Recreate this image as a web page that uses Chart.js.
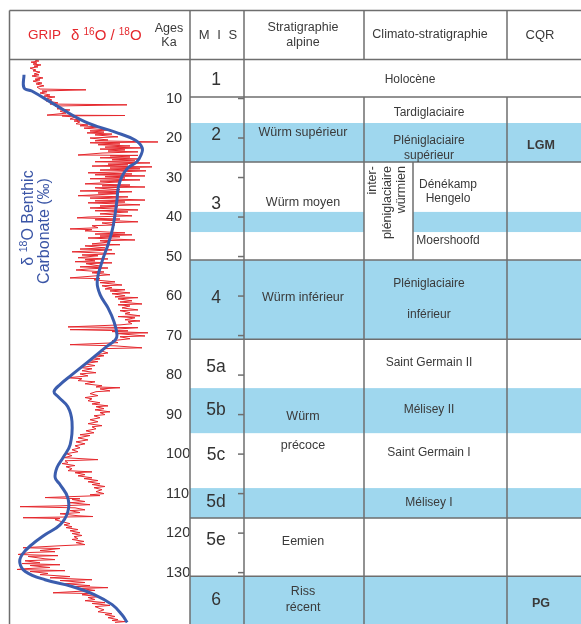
<!DOCTYPE html>
<html>
<head>
<meta charset="utf-8">
<script src="https://cdn.jsdelivr.net/npm/chart.js@4.4.1/dist/chart.umd.min.js"></script>
<style>
  html, body { margin: 0; padding: 0; background: #fff; overflow: hidden; }
  canvas { display: block; }
</style>
</head>
<body>
<canvas id="chart" width="581" height="624"></canvas>
<script>
// GRIP ice core: age (ka) and delta 18O (permil)
const gripAge = [
  0.3, 0.5, 0.8, 1.0, 1.3, 1.5, 1.8, 2.0, 2.3, 2.8,
  3.0, 3.3, 3.8, 4.0, 4.3, 4.8, 5.1, 5.3, 5.6, 6.1,
  6.3, 6.8, 7.1, 7.6, 7.8, 8.1, 8.3, 8.6, 9.1, 9.4,
  9.6, 9.9, 10.4, 10.6, 11.1, 11.4, 11.6, 11.9, 12.4, 12.6,
  12.9, 13.2, 13.7, 14.2, 14.3, 14.4, 14.7, 15.2, 15.4, 15.7,
  15.9, 16.4, 16.7, 16.9, 17.2, 17.5, 18.0, 18.2, 18.5, 18.7,
  19.0, 19.2, 19.7, 20.0, 20.5, 20.7, 21.0, 21.2, 21.5, 21.7,
  22.0, 22.3, 22.5, 22.8, 23.0, 23.3, 23.5, 23.8, 24.3, 24.4,
  24.5, 24.8, 25.0, 25.3, 25.5, 25.8, 26.0, 26.3, 26.6, 26.8,
  27.1, 27.3, 27.6, 27.8, 28.1, 28.3, 28.6, 28.8, 29.1, 29.3,
  29.6, 29.8, 30.1, 30.3, 30.6, 30.9, 31.1, 31.6, 31.9, 32.1,
  32.4, 32.6, 33.1, 33.4, 33.6, 33.9, 34.1, 34.6, 34.9, 35.2,
  35.7, 35.9, 36.2, 36.4, 36.9, 37.2, 37.4, 37.7, 38.2, 38.4,
  38.7, 39.2, 39.7, 40.0, 40.2, 40.5, 40.7, 41.2, 41.5, 42.0,
  42.2, 42.7, 43.0, 43.2, 43.5, 43.8, 44.0, 44.3, 44.5, 44.8,
  45.0, 45.3, 45.8, 46.0, 46.3, 46.8, 47.0, 47.3, 47.8, 48.1,
  48.3, 48.6, 48.8, 49.1, 49.3, 49.6, 49.8, 50.3, 50.6, 50.8,
  51.1, 51.3, 51.6, 51.8, 52.4, 52.6, 52.9, 53.1, 53.4, 53.9,
  54.1, 54.6, 54.9, 55.4, 55.6, 55.9, 56.4, 56.6, 57.2, 57.4,
  57.9, 58.2, 58.4, 58.7, 59.2, 59.4, 59.9, 60.2, 60.4, 60.7,
  61.2, 61.5, 62.0, 62.2, 62.5, 63.0, 63.5, 63.7, 64.2, 64.5,
  65.0, 65.2, 65.5, 66.0, 66.3, 66.5, 67.0, 67.3, 67.5, 67.8,
  68.0, 68.3, 68.5, 68.8, 69.0, 69.3, 69.5, 70.1, 70.3, 70.8,
  71.3, 71.8, 72.3, 72.6, 73.1, 73.3, 73.8, 74.4, 74.9, 75.1,
  75.6, 75.9, 76.4, 76.6, 77.1, 77.6, 78.1, 78.4, 78.9, 79.4,
  79.7, 80.2, 80.7, 80.9, 81.4, 81.7, 82.2, 82.7, 83.0, 83.2,
  83.5, 84.0, 84.2, 84.7, 85.2, 85.7, 86.0, 86.5, 87.0, 87.3,
  87.8, 88.0, 88.5, 88.8, 89.3, 89.5, 90.0, 90.3, 90.8, 91.3,
  91.8, 92.3, 92.8, 93.1, 93.6, 94.1, 94.6, 95.1, 95.3, 95.9,
  96.4, 96.9, 97.4, 97.9, 98.4, 98.9, 99.4, 99.9, 100.4, 100.9,
  101.4, 101.7, 102.2, 102.4, 102.9, 103.2, 103.7, 104.2, 104.5, 104.7,
  105.2, 105.5, 106.0, 106.2, 106.7, 107.0, 107.5, 107.7, 108.2, 108.5,
  109.0, 109.5, 110.0, 110.3, 110.5, 111.0, 111.3, 111.5, 112.0, 112.3,
  112.8, 113.1, 113.3, 113.6, 114.1, 114.3, 114.8, 115.1, 115.6, 115.8,
  116.1, 116.3, 116.6, 117.1, 117.6, 117.9, 118.4, 118.6, 119.1, 119.4,
  119.9, 120.1, 120.6, 120.9, 121.4, 121.6, 122.1, 122.4, 122.9, 123.2,
  123.7, 123.9, 124.4, 124.7, 124.9, 125.4, 125.7, 125.9, 126.5, 126.7,
  127.0, 127.5, 127.7, 128.0, 128.2, 128.7, 129.0, 129.2, 129.5, 129.7,
  130.2, 130.5, 131.0, 131.3, 131.8, 132.0, 132.5, 132.8, 133.3, 133.5,
  133.8, 134.0, 134.5, 135.1, 135.3, 135.6, 136.1, 136.3, 136.8, 137.1,
  137.6, 137.8, 138.3, 138.6, 139.1, 139.4, 139.9, 140.4, 140.6, 141.1,
  141.4, 141.9, 142.1, 142.4, 142.6
];
const gripD18O = [
  -33.7, -34.1, -33.3, -33.9, -33.5, -34.3, -33.6, -34.0, -33.2, -33.8,
  -33.5, -34.2, -33.6, -34.1, -33.4, -34.5, -33.7, -34.2, -33.5, -34.4,
  -33.8, -34.6, -33.9, -34.2, -38.8, -34.4, -34.9, -34.2, -35.2, -34.6,
  -35.7, -34.9, -35.4, -34.8, -36.0, -35.2, -42.9, -35.7, -36.4, -35.9,
  -37.2, -36.2, -36.8, -34.9, -42.7, -36.4, -37.7, -37.2, -38.4, -37.6,
  -38.2, -37.8, -39.0, -38.2, -40.2, -38.6, -41.2, -39.2, -40.6, -38.9,
  -41.4, -39.7, -42.0, -39.2, -41.0, -39.7, -46.0, -39.2, -42.2, -40.0,
  -43.2, -40.7, -44.4, -40.2, -42.7, -41.0, -44.0, -40.4, -38.0, -44.0,
  -41.2, -43.2, -40.2, -44.2, -41.4, -43.7, -39.7, -45.2, -41.0, -43.0,
  -39.4, -45.4, -41.2, -44.2, -40.2, -44.8, -42.0, -39.0, -43.4, -39.7,
  -44.7, -40.7, -42.7, -39.2, -44.2, -40.2, -42.2, -38.7, -43.2, -40.4,
  -44.7, -39.7, -42.2, -38.2, -43.4, -40.0, -42.0, -38.0, -43.0, -39.2,
  -44.7, -39.7, -42.7, -39.0, -44.2, -40.2, -42.0, -39.2, -44.0, -39.7,
  -43.0, -40.2, -43.4, -39.0, -37.9, -42.2, -39.7, -44.0, -40.4, -41.7,
  -39.4, -40.0, -37.2, -39.4, -38.7, -41.0, -42.7, -39.7, -43.4, -40.2,
  -42.2, -39.0, -43.7, -40.2, -41.2, -39.4, -42.2, -38.7, -40.7, -38.2,
  -41.4, -39.2, -37.4, -40.2, -41.7, -38.4, -40.0, -38.0, -41.0, -38.7,
  -39.7, -37.7, -41.4, -38.8, -40.2, -38.2, -41.0, -39.2, -37.8, -40.6,
  -39.4, -41.2, -39.7, -37.2, -40.2, -39.6, -41.7, -40.2, -42.4, -40.4,
  -41.4, -40.7, -42.7, -41.2, -43.2, -41.4, -42.7, -41.7, -44.0, -42.0,
  -43.4, -42.2, -44.4, -42.0, -43.2, -42.4, -44.0, -42.2, -43.2, -42.7,
  -44.2, -42.0, -43.7, -42.7, -44.2, -43.0, -43.4, -42.2, -40.2, -37.0,
  -44.0, -42.2, -37.2, -43.0, -41.4, -45.0, -42.0, -44.7, -42.2, -43.2,
  -41.4, -42.0, -37.2, -41.7, -44.4, -40.7, -40.2, -41.0, -39.7, -40.6,
  -39.4, -40.2, -39.0, -40.0, -38.6, -39.7, -38.2, -39.4, -38.4, -39.8,
  -38.2, -39.0, -36.9, -38.4, -38.0, -39.7, -38.7, -40.4, -39.8, -42.2,
  -40.2, -41.2, -39.8, -39.2, -40.0, -38.7, -39.4, -39.0, -40.2, -39.4,
  -41.0, -39.8, -40.6, -39.7, -41.2, -40.2, -40.7, -39.6, -40.2, -39.2,
  -40.0, -39.0, -40.4, -39.4, -39.8, -38.8, -39.6, -38.2, -39.2, -38.0,
  -39.0, -37.8, -38.7, -37.7, -38.2, -37.4, -38.0, -36.8, -37.4, -36.6,
  -40.0, -36.7, -37.0, -36.4, -37.7, -36.8, -37.4, -37.0, -39.4, -37.7,
  -38.7, -38.0, -39.4, -38.6, -40.0, -39.0, -40.2, -39.4, -40.7, -39.6,
  -40.4, -39.8, -40.6, -39.2, -40.2, -34.7, -38.2, -37.4, -38.7, -37.2,
  -39.2, -36.2, -32.2, -37.7, -38.7, -37.2, -38.2, -36.2, -38.0, -39.5,
  -32.5, -36.2, -35.7, -36.4, -37.2, -36.6, -37.4, -36.8, -38.0, -37.2,
  -38.2, -37.4, -38.4, -37.6, -38.0, -37.4, -38.6, -37.8, -38.7, -36.2,
  -32.5, -36.2, -34.2, -35.7, -33.2, -32.0, -36.0, -33.0, -34.7, -35.7,
  -32.7, -34.2, -32.4, -36.2, -33.2, -35.2, -32.7, -31.9, -36.7, -33.2,
  -35.0, -34.2, -37.2, -35.2, -39.4, -36.2, -38.7, -36.7, -39.2, -37.7,
  -41.0, -38.2, -39.7, -35.5, -39.4, -38.4, -40.2, -39.0, -39.7, -38.7,
  -40.7, -39.4, -41.2, -39.7, -40.2, -40.6, -40.0, -41.4, -40.7, -41.7,
  -41.0, -42.0, -41.4, -42.7, -41.7
];

// benthic carbonate delta 18O (permil), smoothed curve
const benthicAge = [
  4.0, 7.3, 8.1, 11.6, 15.9, 18.5, 20.5, 22.5, 24.3, 26.0,
  27.6, 29.8, 32.6, 35.7, 42.7, 47.0, 51.3, 56.4, 59.7, 63.0,
  66.5, 69.8, 71.1, 73.1, 76.6, 79.9, 82.4, 84.2, 85.5, 88.0,
  91.8, 97.6, 100.9, 103.4, 106.0, 107.7, 111.0, 114.6, 117.9, 120.4,
  122.9, 125.4, 127.5, 129.7, 131.8, 133.5, 135.6, 138.1, 140.6, 142.6
];
const benthicD18O = [
  3.15, 3.15, 3.28, 3.67, 4.17, 4.67, 5.00, 5.12, 5.10, 5.03,
  4.88, 4.78, 4.72, 4.70, 4.63, 4.55, 4.45, 4.37, 4.42, 4.55,
  4.65, 4.70, 4.67, 4.50, 4.22, 3.95, 3.75, 3.65, 3.72, 3.88,
  3.95, 3.92, 3.80, 3.70, 3.67, 3.75, 3.88, 3.88, 3.75, 3.50,
  3.28, 3.12, 3.08, 3.17, 3.50, 3.95, 4.33, 4.62, 4.78, 4.87
];

const ageTicks = [10, 20, 30, 40, 50, 60, 70, 80, 90, 100, 110, 120, 130];

// stratigraphic table (ages in ka)
const stageBounds = [9.6, 26.1, 50.9, 70.9, 116.2, 130.9];
const coldStart = [16.2, 38.7, 50.9, 83.3, 108.6, 130.9];
const coldEnd = [26.1, 43.8, 70.9, 94.7, 116.2, 143];

const misLabels = ['1', '2', '3', '4', '5a', '5b', '5c', '5d', '5e', '6'];
const misAges = [5.3, 19.2, 36.7, 60.5, 78.0, 88.8, 100.2, 112.1, 121.7, 136.9];

const alpineLabels = ['Würm supérieur', 'Würm moyen', 'Würm inférieur', 'Würm', 'précoce', 'Eemien', 'Riss', 'récent'];
const alpineAges = [18.5, 36.4, 60.5, 90.4, 97.9, 122.2, 134.9, 138.9];

const climatoLabels = ['Tardiglaciaire', 'Pléniglaciaire', 'supérieur', 'Pléniglaciaire', 'inférieur',
  'Saint Germain II', 'Mélisey II', 'Saint Germain I', 'Mélisey I'];
const climatoAges = [13.7, 20.8, 24.5, 56.9, 64.8, 76.9, 88.8, 99.7, 112.4];

const interLabels = ['Dénékamp', 'Hengelo', 'Moershoofd'];
const interAges = [31.9, 35.4, 46.1];
const interTitle = ['inter-', 'pléniglaciaire', 'würmien'];

const cqrLabels = ['LGM', 'PG'];
const cqrAges = [21.8, 137.7];

const FONT = "'Liberation Sans', Arial, sans-serif";
const RED = '#e5282d';
const BLUE = '#3b5dae';
const BAND = '#9fd7ee';
const INK = '#3a3a3a';
const RULE = '#6e6e6e';

// column edges
const COL = { left: 9.5, ages: 190, mis: 244, strat: 364, sub: 413, clim: 507, right: 581, top: 10.5 };

function rich(ctx, parts, x, y, align) {
    const widths = parts.map(p => { ctx.font = p.font; return ctx.measureText(p.text).width; });
    const total = widths.reduce((a, b) => a + b, 0);
    let cx = align === 'center' ? x - total / 2 : x;
    ctx.textAlign = 'left';
    parts.forEach((p, i) => {
        ctx.font = p.font;
        ctx.fillText(p.text, cx, y - (p.rise || 0));
        cx += widths[i];
    });
}

const tablePlugin = {
    id: 'stratTable',
    beforeDraw(chart) {
        const { ctx, scales: { y } } = chart;
        ctx.save();
        ctx.fillStyle = BAND;
        coldStart.forEach((s, i) => {
            const y0 = y.getPixelForValue(s), y1 = y.getPixelForValue(coldEnd[i]);
            const inSub = s > stageBounds[1] && coldEnd[i] < stageBounds[2];
            if (inSub) {
                ctx.fillRect(COL.ages, y0, COL.strat - COL.ages, y1 - y0);
                ctx.fillRect(COL.sub, y0, COL.right - COL.sub, y1 - y0);
            } else {
                ctx.fillRect(COL.ages, y0, COL.right - COL.ages, y1 - y0);
            }
        });
        ctx.restore();
    },
    afterDraw(chart) {
        const { ctx, chartArea: a, scales: { y } } = chart;
        const py = v => y.getPixelForValue(v);
        const H = chart.height;
        const head = a.top + 0.5;

        ctx.save();
        ctx.strokeStyle = RULE;
        ctx.lineWidth = 1.5;
        const seg = (x1, y1, x2, y2) => {
            ctx.beginPath(); ctx.moveTo(x1, y1); ctx.lineTo(x2, y2); ctx.stroke();
        };
        seg(COL.left, COL.top, COL.right, COL.top);
        seg(COL.left, head, COL.right, head);
        seg(COL.left, COL.top, COL.left, H);
        seg(COL.ages, COL.top, COL.ages, H);
        seg(COL.mis, COL.top, COL.mis, H);
        const yHolo = py(stageBounds[0]);
        seg(COL.strat, COL.top, COL.strat, head);
        seg(COL.strat, yHolo, COL.strat, H);
        seg(COL.clim, COL.top, COL.clim, head);
        seg(COL.clim, yHolo, COL.clim, H);
        stageBounds.forEach(v => seg(COL.ages, py(v), COL.right, py(v)));
        seg(COL.sub, py(stageBounds[1]), COL.sub, py(stageBounds[2]));
        ageTicks.forEach(v => seg(COL.mis - 6, py(v), COL.mis, py(v)));

        // header
        ctx.textBaseline = 'middle';
        ctx.fillStyle = RED;
        ctx.font = `13.5px ${FONT}`;
        ctx.textAlign = 'left';
        ctx.fillText('GRIP', 28, 35);
        rich(ctx, [
            { text: 'δ ', font: `15px ${FONT}` },
            { text: '16', font: `10px ${FONT}`, rise: 4 },
            { text: 'O / ', font: `15px ${FONT}` },
            { text: '18', font: `10px ${FONT}`, rise: 4 },
            { text: 'O', font: `15px ${FONT}` }
        ], 71, 36, 'left');

        ctx.fillStyle = INK;
        ctx.textAlign = 'center';
        ctx.font = `12.5px ${FONT}`;
        ctx.fillText('Ages', 169, 29);
        ctx.fillText('Ka', 169, 43);
        ctx.font = `13px ${FONT}`;
        ctx.letterSpacing = '2px';
        ctx.fillText('M I S', 219, 35);
        ctx.letterSpacing = '0px';
        ctx.font = `12.5px ${FONT}`;
        ctx.fillText('Stratigraphie', 303, 28);
        ctx.fillText('alpine', 303, 43);
        ctx.fillText('Climato-stratigraphie', 430, 35);
        ctx.font = `13px ${FONT}`;
        ctx.fillText('CQR', 540, 35);

        // body
        ctx.fillStyle = '#333';
        ctx.font = `17.5px ${FONT}`;
        misLabels.forEach((t, i) => ctx.fillText(t, 216, py(misAges[i])));

        ctx.fillStyle = INK;
        ctx.font = `12.5px ${FONT}`;
        alpineLabels.forEach((t, i) => ctx.fillText(t, 303, py(alpineAges[i])));

        ctx.font = `12px ${FONT}`;
        ctx.fillText('Holocène', 410, py(misAges[0]));
        climatoLabels.forEach((t, i) => ctx.fillText(t, 429, py(climatoAges[i])));
        interLabels.forEach((t, i) => ctx.fillText(t, 448, py(interAges[i])));

        ctx.font = `bold 12.5px ${FONT}`;
        cqrLabels.forEach((t, i) => ctx.fillText(t, 541, py(cqrAges[i])));

        // rotated cell
        ctx.font = `12.5px ${FONT}`;
        const topEdge = py(stageBounds[1]) + 4;
        [373, 388, 402].forEach((x, i) => {
            ctx.save();
            ctx.translate(x, topEdge);
            ctx.rotate(-Math.PI / 2);
            ctx.textAlign = 'right';
            ctx.fillText(interTitle[i], 0, 0);
            ctx.restore();
        });

        // benthic axis title
        ctx.fillStyle = '#3a55a6';
        const axisTitle = [
            { x: 29, y: 218, parts: [
                { text: 'δ ', font: `16px ${FONT}` },
                { text: '18', font: `10.5px ${FONT}`, rise: 5 },
                { text: 'O Benthic', font: `16px ${FONT}` }
            ] },
            { x: 45, y: 231, parts: [{ text: 'Carbonate (‰)', font: `16px ${FONT}` }] }
        ];
        axisTitle.forEach(l => {
            ctx.save();
            ctx.translate(l.x, l.y);
            ctx.rotate(-Math.PI / 2);
            rich(ctx, l.parts, 0, 0, 'center');
            ctx.restore();
        });
        ctx.restore();
    }
};

new Chart(document.getElementById('chart'), {
    type: 'scatter',
    data: {
        datasets: [
            {
                label: 'Benthic',
                data: benthicAge.map((v, i) => ({ x: benthicD18O[i], y: v })),
                xAxisID: 'x2',
                showLine: true,
                borderColor: BLUE,
                borderWidth: 3,
                pointRadius: 0,
                tension: 0.4
            },
            {
                label: 'GRIP',
                data: gripAge.map((v, i) => ({ x: gripD18O[i], y: v })),
                xAxisID: 'x',
                showLine: true,
                borderColor: RED,
                borderWidth: 1,
                pointRadius: 0,
                tension: 0
            }
        ]
    },
    options: {
        responsive: false,
        animation: false,
        devicePixelRatio: 1,
        layout: { padding: { top: 59, left: 9, right: 391, bottom: 0 } },
        plugins: { legend: { display: false }, tooltip: { enabled: false } },
        scales: {
            x: { type: 'linear', display: false, reverse: true, min: -46.4, max: -31.1 },
            x2: { type: 'linear', display: false, min: 2.9, max: 5.45 },
            y: {
                type: 'linear',
                position: 'right',
                reverse: true,
                min: 0,
                max: 143,
                grid: { display: false, drawTicks: false },
                border: { display: false },
                ticks: { padding: 4, color: '#333', font: { family: FONT, size: 14.5 } },
                afterBuildTicks: s => { s.ticks = ageTicks.map(v => ({ value: v })); },
                afterFit: s => { s.width = 28; s.paddingTop = 0; s.paddingBottom = 0; }
            }
        }
    },
    plugins: [tablePlugin]
});
</script>
</body>
</html>
